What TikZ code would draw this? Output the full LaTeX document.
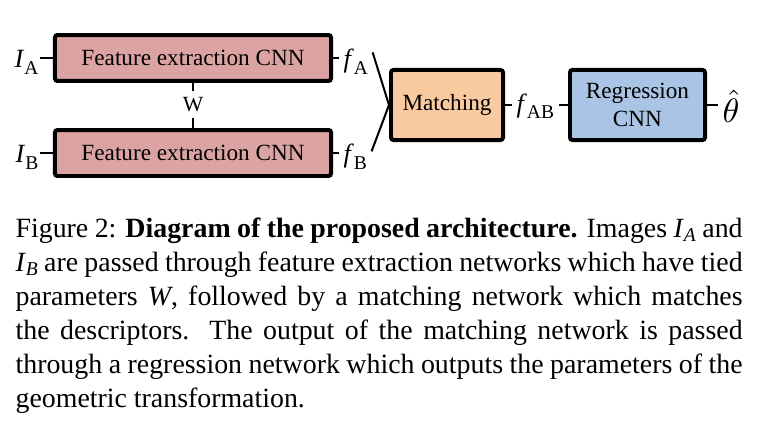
\documentclass[tikz,border=0pt]{standalone}
\usepackage{fontspec}
\setmainfont{Liberation Serif}
\usetikzlibrary{calc}
\newcommand\pxu{0.3231pt}
\definecolor{fepink}{HTML}{DCA3A3}
\definecolor{matchor}{HTML}{F9C9A0}
\definecolor{regblue}{HTML}{A9C4E4}
\newcommand\dlab[2]{\textit{#1}\raisebox{-2.2pt}{\fontsize{6.3}{7}\selectfont #2}}
\newcommand\csub[2]{\textit{#1}\raisebox{-1.5pt}{\fontsize{6.3}{7}\selectfont\textit{#2}}}
\tikzset{
  box/.style={draw=black, line width=1.29pt, rounded corners=0.8pt, inner sep=0pt,
    font=\fontsize{7.5}{9.2}\selectfont, align=center},
  febox/.style={box, fill=fepink, minimum width=89.18pt, minimum height=14.86pt},
  lab/.style={inner xsep=1.29pt, inner ysep=0pt, font=\fontsize{8.5}{10}\selectfont},
  conn/.style={line width=0.65pt},
}
\begin{document}
\begin{tikzpicture}[x=\pxu,y=-\pxu]
\useasboundingbox (0,0) rectangle (763,427);
\node[febox] (A) at (193,58) {Feature extraction CNN};
\node[febox] (B) at (193,153) {Feature extraction CNN};
\node[box, fill=matchor, minimum width=36.19pt, minimum height=22.62pt] (M) at (447,105) {Matching};
\node[box, fill=regblue, minimum width=43.62pt, minimum height=22.62pt] (R) at (637.5,105) {Regression\\CNN};
\node[lab, inner xsep=0.32pt, anchor=base east] (IA) at (40,67.5) {\dlab{I}{A}};
\node[lab, inner xsep=0.32pt, anchor=base east] (IB) at (40,162.5) {\dlab{I}{B}};
\node[lab, anchor=base west] (fA) at (339,67.5) {\dlab{f}{A}};
\node[lab, anchor=base west] (fB) at (339,162.5) {\dlab{f}{B}};
\node[lab, anchor=base west] (fAB) at (512,112) {\dlab{f}{AB}};
\node[lab, anchor=west, font=\fontsize{11}{13}\selectfont] (th) at (718,106) {$\hat{\theta}$};
\node[font=\fontsize{7}{8}\selectfont, inner xsep=0pt, inner ysep=1.78pt] (W) at (193,104.5) {W};
\draw[conn] (IA.east |- A.west) -- (A.west);
\draw[conn] (A.east) -- (fA.west |- A.east);
\draw[conn] (IB.east |- B.west) -- (B.west);
\draw[conn] (B.east) -- (fB.west |- B.east);
\draw[conn] (A.south) -- (W.north);
\draw[conn] (W.south) -- (B.north);
\draw[conn] ($(fA.north east)!0.15!(fA.south east)$) -- (M.west);
\draw[conn] ($(fB.north east)!0.3!(fB.south east)$) -- (M.west);
\draw[conn] (M.east) -- (fAB.west |- M.east);
\draw[conn] (fAB.east |- R.west) -- (R.west);
\draw[conn] (R.east) -- (th.west |- R.east);
\node[anchor=north west, text width=234.9pt, inner sep=0pt, align=justify,
  font=\fontsize{9}{11}\selectfont] (cap) at (15,217)
  {Figure 2: \textbf{Diagram of the proposed architecture.} Images \csub{I}{A} and\linebreak
   \csub{I}{B} are passed through feature extraction networks which have tied\linebreak
   parameters \textit{W}, followed by a matching network which matches\linebreak
   the descriptors. The output of the matching network is passed\linebreak
   through a regression network which outputs the parameters of the\linebreak
   geometric transformation.};
\end{tikzpicture}
\end{document}
